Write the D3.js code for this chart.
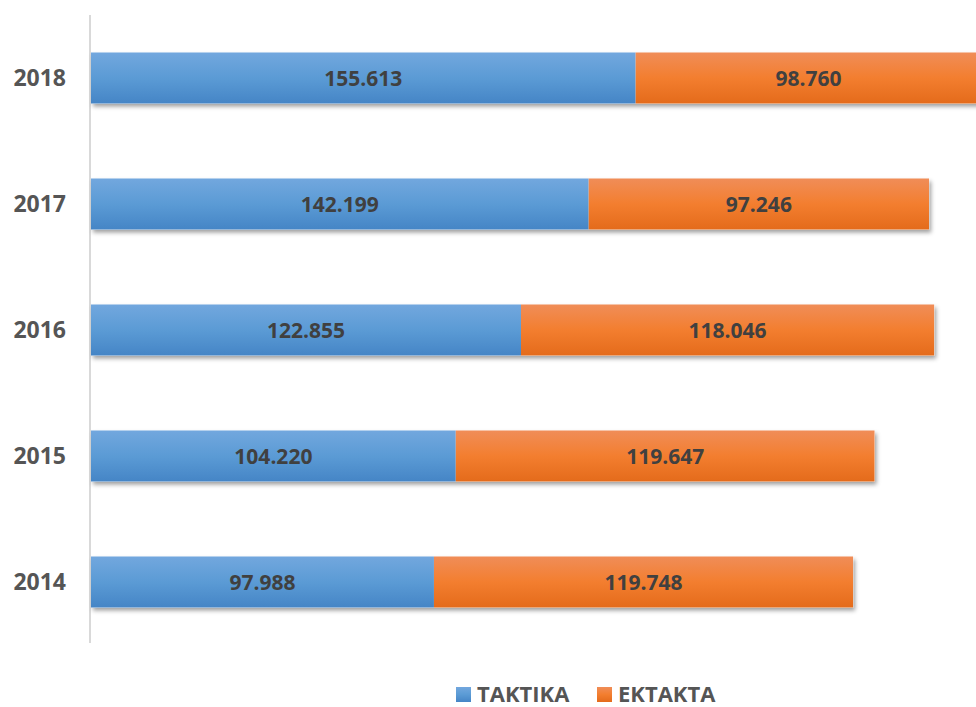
<!DOCTYPE html>
<html>
<head>
<meta charset="utf-8">
<script src="https://cdn.jsdelivr.net/npm/d3@7"></script>
<style>
  body { margin: 0; background: #fff; }
  svg { display: block; }
</style>
</head>
<body>
<div id="chart"></div>
<script>
var w = 976;
var h = 707;

// data
var years = ["2018", "2017", "2016", "2015", "2014"];
var taktika = [155613, 142199, 122855, 104220, 97988];
var ektakta = [98760, 97246, 118046, 119647, 119748];
var seriesNames = ["TAKTIKA", "EKTAKTA"];

var fmt = function(v) { return d3.format(",")(v).replace(/,/g, "."); };

var svg = d3.select("#chart")
            .append("svg")
            .attr("width", w)
            .attr("height", h);

var defs = svg.append("defs");

function grad(id, c1, c2, c3) {
  var g = defs.append("linearGradient")
              .attr("id", id)
              .attr("x1", 0).attr("y1", 0)
              .attr("x2", 0).attr("y2", 1);
  g.append("stop").attr("offset", "0%").attr("stop-color", c1);
  g.append("stop").attr("offset", "50%").attr("stop-color", c2);
  g.append("stop").attr("offset", "100%").attr("stop-color", c3);
}
grad("gBlue", "#72a7de", "#5b9bd5", "#4585c6");
grad("gOrange", "#f08d58", "#f37e2f", "#e46b1b");

var shadow = defs.append("filter")
                 .attr("id", "shadow")
                 .attr("x", "-5%").attr("y", "-20%")
                 .attr("width", "110%").attr("height", "160%");
shadow.append("feDropShadow")
      .attr("dx", 2).attr("dy", 3)
      .attr("stdDeviation", 2.2)
      .attr("flood-color", "#000")
      .attr("flood-opacity", 0.38);

var xScale = d3.scaleLinear()
               .domain([0, 250000])
               .range([91, 966]);

var yScale = d3.scaleBand()
               .domain(years)
               .range([15, 645])
               .paddingInner(0.595)
               .paddingOuter(0.2975);

// vertical axis line
svg.append("line")
   .attr("x1", 90).attr("x2", 90)
   .attr("y1", 15).attr("y2", 643)
   .attr("stroke", "#d9d9d9")
   .attr("stroke-width", 2);

var rows = years.map(function(y, i) {
  return { year: y, a: taktika[i], b: ektakta[i] };
});

var g = svg.selectAll("g.row")
           .data(rows)
           .enter()
           .append("g")
           .attr("class", "row");

// shadow layer for whole bar
g.append("rect")
 .attr("x", xScale(0))
 .attr("y", function(d) { return yScale(d.year); })
 .attr("width", function(d) { return xScale(d.a + d.b) - xScale(0); })
 .attr("height", yScale.bandwidth())
 .attr("fill", "#ffffff")
 .attr("filter", "url(#shadow)");

g.append("rect")
 .attr("x", xScale(0))
 .attr("y", function(d) { return yScale(d.year); })
 .attr("width", function(d) { return xScale(d.a) - xScale(0); })
 .attr("height", yScale.bandwidth())
 .attr("fill", "url(#gBlue)");

g.append("rect")
 .attr("x", function(d) { return xScale(d.a); })
 .attr("y", function(d) { return yScale(d.year); })
 .attr("width", function(d) { return xScale(d.a + d.b) - xScale(d.a); })
 .attr("height", yScale.bandwidth())
 .attr("fill", "url(#gOrange)");

g.append("text")
 .attr("x", function(d) { return (xScale(0) + xScale(d.a)) / 2; })
 .attr("y", function(d) { return yScale(d.year) + yScale.bandwidth() / 2; })
 .attr("dy", "0.36em")
 .attr("text-anchor", "middle")
 .attr("font-family", "Open Sans")
 .attr("font-weight", "bold")
 .attr("font-size", 21)
 .attr("fill", "#404040")
 .text(function(d) { return fmt(d.a); });

g.append("text")
 .attr("x", function(d) { return (xScale(d.a) + xScale(d.a + d.b)) / 2; })
 .attr("y", function(d) { return yScale(d.year) + yScale.bandwidth() / 2; })
 .attr("dy", "0.36em")
 .attr("text-anchor", "middle")
 .attr("font-family", "Open Sans")
 .attr("font-weight", "bold")
 .attr("font-size", 21)
 .attr("fill", "#404040")
 .text(function(d) { return fmt(d.b); });

// year labels
svg.selectAll("text.year")
   .data(years)
   .enter()
   .append("text")
   .attr("class", "year")
   .attr("x", 66)
   .attr("y", function(d) { return yScale(d) + yScale.bandwidth() / 2; })
   .attr("dy", "0.36em")
   .attr("text-anchor", "end")
   .attr("font-family", "Open Sans")
   .attr("font-weight", "bold")
   .attr("font-size", 23)
   .attr("fill", "#555555")
   .text(function(d) { return d; });

// legend
var legend = svg.selectAll("g.legend")
                .data(seriesNames)
                .enter()
                .append("g")
                .attr("class", "legend")
                .attr("transform", function(d, i) { return "translate(" + (i === 0 ? 456 : 597) + ",686)"; });

legend.append("rect")
      .attr("y", 1)
      .attr("width", 15)
      .attr("height", 15)
      .attr("fill", function(d, i) { return i === 0 ? "url(#gBlue)" : "url(#gOrange)"; });

legend.append("text")
      .attr("x", 21)
      .attr("y", 16)
      .attr("font-family", "Open Sans")
      .attr("font-weight", "bold")
      .attr("font-size", 22)
      .attr("fill", "#555555")
      .text(function(d) { return d; });
</script>
</body>
</html>
